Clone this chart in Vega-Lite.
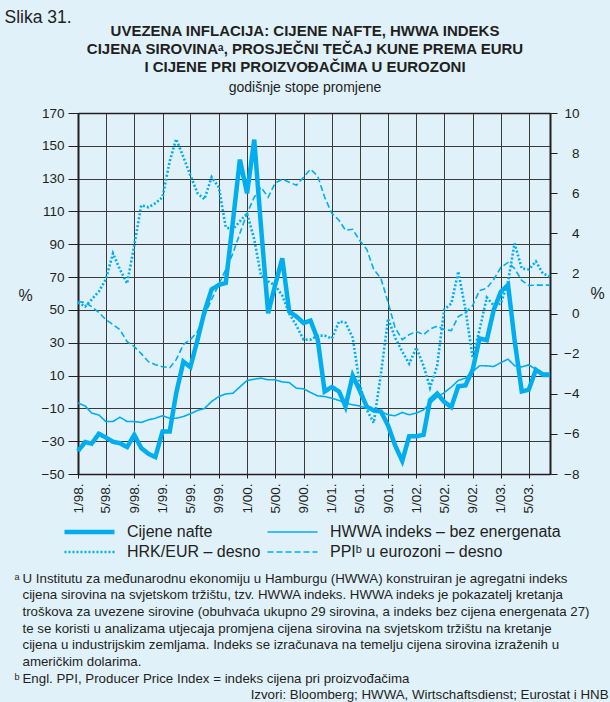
{
  "$schema": "https://vega.github.io/schema/vega-lite/v6.json",
  "width": 472,
  "height": 361,
  "autosize": {"type": "none"},
  "padding": {"left": 78, "right": 60, "top": 113, "bottom": 228},
  "background": "#e0f1fa",
  "title": {
    "text": ["UVEZENA INFLACIJA: CIJENE NAFTE, HWWA INDEKS", "CIJENA SIROVINAᵃ, PROSJEČNI TEČAJ KUNE PREMA EURU", "I CIJENE PRI PROIZVOĐAČIMA U EUROZONI"],
    "subtitle": "godišnje stope promjene",
    "anchor": "middle",
    "frame": "group",
    "dx": -9,
    "offset": -87,
    "font": "Liberation Sans",
    "fontSize": 15,
    "fontWeight": "bold",
    "lineHeight": 18,
    "color": "#231f20",
    "subtitleFont": "Liberation Sans",
    "subtitleFontSize": 14,
    "subtitleColor": "#231f20",
    "subtitlePadding": 6
  },
  "data": {"values": [
    {"date": "1998-01-01", "nafte": -36, "hwwa": -6.8, "hrk": 0.55, "ppi": 0.6},
    {"date": "1998-02-01", "nafte": -30.5, "hwwa": -8.5, "hrk": 0.35, "ppi": 0.55},
    {"date": "1998-03-01", "nafte": -31.5, "hwwa": -12.9, "hrk": 0.7, "ppi": 0.35},
    {"date": "1998-04-01", "nafte": -25.5, "hwwa": -14, "hrk": 1.1, "ppi": 0.05},
    {"date": "1998-05-01", "nafte": -27.7, "hwwa": -18, "hrk": 1.7, "ppi": -0.3},
    {"date": "1998-06-01", "nafte": -30.4, "hwwa": -18, "hrk": 3.0, "ppi": -0.55},
    {"date": "1998-07-01", "nafte": -31.2, "hwwa": -15.4, "hrk": 2.2, "ppi": -0.8},
    {"date": "1998-08-01", "nafte": -33.6, "hwwa": -18, "hrk": 1.5, "ppi": -1.4},
    {"date": "1998-09-01", "nafte": -26.1, "hwwa": -18, "hrk": 3.4, "ppi": -1.65},
    {"date": "1998-10-01", "nafte": -34.2, "hwwa": -18.6, "hrk": 5.4, "ppi": -2.0},
    {"date": "1998-11-01", "nafte": -37.7, "hwwa": -17, "hrk": 5.3, "ppi": -2.4},
    {"date": "1998-12-01", "nafte": -39.7, "hwwa": -16, "hrk": 5.5, "ppi": -2.55},
    {"date": "1999-01-01", "nafte": -24.1, "hwwa": -14.5, "hrk": 5.8, "ppi": -2.65},
    {"date": "1999-02-01", "nafte": -24.1, "hwwa": -16, "hrk": 7.6, "ppi": -2.7},
    {"date": "1999-03-01", "nafte": -0.8, "hwwa": -16, "hrk": 8.7, "ppi": -2.3},
    {"date": "1999-04-01", "nafte": 18.5, "hwwa": -15, "hrk": 7.8, "ppi": -1.55},
    {"date": "1999-05-01", "nafte": 15.1, "hwwa": -13.3, "hrk": 6.9, "ppi": -1.3},
    {"date": "1999-06-01", "nafte": 31.7, "hwwa": -11.3, "hrk": 6.0, "ppi": -0.9},
    {"date": "1999-07-01", "nafte": 48.9, "hwwa": -10.1, "hrk": 5.7, "ppi": -0.1},
    {"date": "1999-08-01", "nafte": 62.5, "hwwa": -5.8, "hrk": 6.8, "ppi": 0.7},
    {"date": "1999-09-01", "nafte": 65.2, "hwwa": -2.8, "hrk": 6.3, "ppi": 1.45},
    {"date": "1999-10-01", "nafte": 66.4, "hwwa": -1.2, "hrk": 4.3, "ppi": 2.2},
    {"date": "1999-11-01", "nafte": 104, "hwwa": -0.8, "hrk": 4.2, "ppi": 3.0},
    {"date": "1999-12-01", "nafte": 141.6, "hwwa": 3.1, "hrk": 4.6, "ppi": 4.0},
    {"date": "2000-01-01", "nafte": 121, "hwwa": 7, "hrk": 5.0, "ppi": 5.0},
    {"date": "2000-02-01", "nafte": 153.8, "hwwa": 7.8, "hrk": 3.7, "ppi": 5.8},
    {"date": "2000-03-01", "nafte": 101, "hwwa": 8.4, "hrk": 1.9, "ppi": 6.3},
    {"date": "2000-04-01", "nafte": 48, "hwwa": 7.4, "hrk": 1.6, "ppi": 5.8},
    {"date": "2000-05-01", "nafte": 65, "hwwa": 7.4, "hrk": 1.4, "ppi": 6.5},
    {"date": "2000-06-01", "nafte": 81.4, "hwwa": 6.1, "hrk": 0.9, "ppi": 6.7},
    {"date": "2000-07-01", "nafte": 49, "hwwa": 5.7, "hrk": 0.0, "ppi": 6.55},
    {"date": "2000-08-01", "nafte": 46, "hwwa": 2.3, "hrk": -0.6, "ppi": 6.4},
    {"date": "2000-09-01", "nafte": 42, "hwwa": 1.9, "hrk": -1.3, "ppi": 6.8},
    {"date": "2000-10-01", "nafte": 43.5, "hwwa": -0.3, "hrk": -1.3, "ppi": 7.2},
    {"date": "2000-11-01", "nafte": 32, "hwwa": -2.4, "hrk": -1.1, "ppi": 6.85},
    {"date": "2000-12-01", "nafte": 0.3, "hwwa": -2.8, "hrk": -1.1, "ppi": 5.8},
    {"date": "2001-01-01", "nafte": 3, "hwwa": -3.8, "hrk": -1.25, "ppi": 5.0},
    {"date": "2001-02-01", "nafte": 0.3, "hwwa": -5.2, "hrk": -0.4, "ppi": 4.65},
    {"date": "2001-03-01", "nafte": -8.9, "hwwa": -6.8, "hrk": -0.45, "ppi": 4.15},
    {"date": "2001-04-01", "nafte": 10, "hwwa": -7.8, "hrk": -1.2, "ppi": 4.2},
    {"date": "2001-05-01", "nafte": 1, "hwwa": -8.5, "hrk": -3.5, "ppi": 3.65},
    {"date": "2001-06-01", "nafte": -9, "hwwa": -9.9, "hrk": -4.8, "ppi": 3.2},
    {"date": "2001-07-01", "nafte": -11.3, "hwwa": -10.9, "hrk": -5.45, "ppi": 2.2},
    {"date": "2001-08-01", "nafte": -11.9, "hwwa": -11.9, "hrk": -3.0, "ppi": 1.75},
    {"date": "2001-09-01", "nafte": -20.5, "hwwa": -13.9, "hrk": -0.25, "ppi": 0.55},
    {"date": "2001-10-01", "nafte": -32.5, "hwwa": -14.5, "hrk": -1.2, "ppi": -0.7},
    {"date": "2001-11-01", "nafte": -42, "hwwa": -12.5, "hrk": -1.9, "ppi": -1.3},
    {"date": "2001-12-01", "nafte": -27, "hwwa": -13.9, "hrk": -2.5, "ppi": -1.05},
    {"date": "2002-01-01", "nafte": -27, "hwwa": -12.9, "hrk": -1.7, "ppi": -0.9},
    {"date": "2002-02-01", "nafte": -26.1, "hwwa": -10.9, "hrk": -2.6, "ppi": -1.05},
    {"date": "2002-03-01", "nafte": -5, "hwwa": -7, "hrk": -3.7, "ppi": -0.78},
    {"date": "2002-04-01", "nafte": -1, "hwwa": -3, "hrk": -2.6, "ppi": -0.62},
    {"date": "2002-05-01", "nafte": -6, "hwwa": -0.5, "hrk": 0.2, "ppi": -0.8},
    {"date": "2002-06-01", "nafte": -9.2, "hwwa": 3, "hrk": 0.5, "ppi": -0.85},
    {"date": "2002-07-01", "nafte": 3.5, "hwwa": 7, "hrk": 2.1, "ppi": -0.15},
    {"date": "2002-08-01", "nafte": 4, "hwwa": 8.4, "hrk": 0.2, "ppi": 0.05},
    {"date": "2002-09-01", "nafte": 13.5, "hwwa": 12.4, "hrk": -2.2, "ppi": 0.4},
    {"date": "2002-10-01", "nafte": 32.7, "hwwa": 16, "hrk": -0.8, "ppi": 1.15},
    {"date": "2002-11-01", "nafte": 31.5, "hwwa": 15.9, "hrk": 0.8, "ppi": 1.26},
    {"date": "2002-12-01", "nafte": 50, "hwwa": 15.5, "hrk": 0.4, "ppi": 1.7},
    {"date": "2003-01-01", "nafte": 61.1, "hwwa": 17.9, "hrk": 0.5, "ppi": 2.3},
    {"date": "2003-02-01", "nafte": 65.2, "hwwa": 20, "hrk": 1.6, "ppi": 2.55},
    {"date": "2003-03-01", "nafte": 31.7, "hwwa": 16, "hrk": 3.5, "ppi": 2.25},
    {"date": "2003-04-01", "nafte": 0.3, "hwwa": 15.3, "hrk": 2.25, "ppi": 1.65},
    {"date": "2003-05-01", "nafte": 1.3, "hwwa": 16.5, "hrk": 2.2, "ppi": 1.4},
    {"date": "2003-06-01", "nafte": 13.5, "hwwa": 13.8, "hrk": 2.6, "ppi": 1.42},
    {"date": "2003-07-01", "nafte": 10.7, "hwwa": 9.5, "hrk": 2.0, "ppi": 1.42},
    {"date": "2003-08-01", "nafte": 10.7, "hwwa": 9.4, "hrk": 1.85, "ppi": 1.42}
  ]},
  "resolve": {"scale": {"y": "independent"}, "axis": {"x": "independent", "y": "independent"}},
  "layer": [
    {
      "transform": [{"fold": ["nafte"], "as": ["series", "value"]}],
      "mark": {"type": "line", "color": "#00aeef"},
      "encoding": {
        "x": {"field": "date", "type": "temporal",
          "scale": {"type": "utc", "domain": [{"year": 1998, "month": 1, "date": 1, "utc": true}, {"year": 2003, "month": 8, "date": 1, "utc": true}]},
          "axis": {"orient": "bottom",
            "values": [{"year": 1998, "month": 1, "utc": true}, {"year": 1998, "month": 5, "utc": true}, {"year": 1998, "month": 9, "utc": true},
                       {"year": 1999, "month": 1, "utc": true}, {"year": 1999, "month": 5, "utc": true}, {"year": 1999, "month": 9, "utc": true},
                       {"year": 2000, "month": 1, "utc": true}, {"year": 2000, "month": 5, "utc": true}, {"year": 2000, "month": 9, "utc": true},
                       {"year": 2001, "month": 1, "utc": true}, {"year": 2001, "month": 5, "utc": true}, {"year": 2001, "month": 9, "utc": true},
                       {"year": 2002, "month": 1, "utc": true}, {"year": 2002, "month": 5, "utc": true}, {"year": 2002, "month": 9, "utc": true},
                       {"year": 2003, "month": 1, "utc": true}, {"year": 2003, "month": 5, "utc": true}],
            "format": "%-m/%y.",
            "labelAngle": 270, "labelAlign": "right", "labelBaseline": "middle",
            "labelFontSize": 13.5, "labelPadding": 5, "labelOverlap": false, "labelFlush": false,
            "tickSize": 4, "tickColor": "#231f20", "tickWidth": 1,
            "domainColor": "#231f20", "domainWidth": 1.5,
            "grid": true, "gridColor": "#3a3a3a", "gridWidth": 1,
            "title": ["U Institutu za međunarodnu ekonomiju u Hamburgu (HWWA) konstruiran je agregatni indeks",
                      "cijena sirovina na svjetskom tržištu, tzv. HWWA indeks. HWWA indeks je pokazatelj kretanja",
                      "troškova za uvezene sirovine (obuhvaća ukupno 29 sirovina, a indeks bez cijena energenata 27)",
                      "te se koristi u analizama utjecaja promjena cijena sirovina na svjetskom tržištu na kretanje",
                      "cijena u industrijskim zemljama. Indeks se izračunava na temelju cijena sirovina izraženih u",
                      "američkim dolarima.",
                      "Engl. PPI, Producer Price Index = indeks cijena pri proizvođačima"],
            "titleX": -56, "titleY": 97, "titleAlign": "left", "titleAnchor": "start", "titleBaseline": "top", "titleAngle": 0,
            "titleFontSize": 13.3, "titleFontWeight": "normal", "titleLineHeight": 16.7, "titleLimit": 1000}
        },
        "y": {"field": "value", "type": "quantitative",
          "scale": {"domain": [-50, 170], "nice": false, "zero": false},
          "axis": {"orient": "left", "values": [-50, -30, -10, 10, 30, 50, 70, 90, 110, 130, 150, 170],
            "grid": true, "gridColor": "#3a3a3a", "gridWidth": 1,
            "domainColor": "#231f20", "domainWidth": 2,
            "tickSize": 10, "tickColor": "#231f20", "labelPadding": 4, "labelFontSize": 13.5,
            "title": "%", "titleAngle": 0, "titleX": -53, "titleY": 182, "titleAlign": "center", "titleBaseline": "middle",
            "titleFontSize": 16, "titleFontWeight": "normal"}
        },
        "strokeDash": {"field": "series", "type": "nominal",
          "scale": {"domain": ["nafte", "hrk", "hwwa", "ppi"], "range": [[1, 0], [2, 2], [1, 0], [6, 3]]},
          "legend": {"labelExpr": "datum.label == 'nafte' ? 'Cijene nafte' : datum.label == 'hwwa' ? 'HWWA indeks – bez energenata' : datum.label == 'hrk' ? 'HRK/EUR – desno' : 'PPIᵇ u eurozoni – desno'"}},
        "strokeWidth": {"field": "series", "type": "nominal",
          "scale": {"type": "ordinal", "domain": ["nafte", "hrk", "hwwa", "ppi"], "range": [4.5, 2.6, 1.6, 1.6]},
          "legend": {"labelExpr": "datum.label == 'nafte' ? 'Cijene nafte' : datum.label == 'hwwa' ? 'HWWA indeks – bez energenata' : datum.label == 'hrk' ? 'HRK/EUR – desno' : 'PPIᵇ u eurozoni – desno'"}}
      }
    },
    {
      "transform": [{"fold": ["hwwa"], "as": ["series", "value"]}],
      "mark": {"type": "line", "color": "#00aeef"},
      "encoding": {
        "x": {"field": "date", "type": "temporal",
          "axis": {"orient": "bottom", "labels": false, "ticks": false, "domain": false, "grid": false,
            "title": "Izvori: Bloomberg; HWWA, Wirtschaftsdienst; Eurostat i HNB",
            "titleX": 530, "titleY": 224, "titleAlign": "right", "titleAnchor": "end", "titleBaseline": "alphabetic", "titleAngle": 0,
            "titleFontSize": 13.3, "titleFontWeight": "normal"}},
        "y": {"field": "value", "type": "quantitative",
          "scale": {"domain": [-50, 170], "nice": false, "zero": false},
          "axis": {"orient": "left", "labels": false, "ticks": false, "domain": false, "grid": false,
            "title": ["ᵃ", "\u2800", "\u2800", "\u2800", "\u2800", "\u2800", "ᵇ"],
            "titleX": -64, "titleY": 458, "titleAlign": "left", "titleAnchor": "start", "titleBaseline": "top", "titleAngle": 0,
            "titleFontSize": 13.3, "titleFontWeight": "normal", "titleLineHeight": 16.7}},
        "strokeDash": {"field": "series", "type": "nominal",
          "scale": {"domain": ["nafte", "hrk", "hwwa", "ppi"], "range": [[1, 0], [2, 2], [1, 0], [6, 3]]},
          "legend": {"labelExpr": "datum.label == 'nafte' ? 'Cijene nafte' : datum.label == 'hwwa' ? 'HWWA indeks – bez energenata' : datum.label == 'hrk' ? 'HRK/EUR – desno' : 'PPIᵇ u eurozoni – desno'"}},
        "strokeWidth": {"field": "series", "type": "nominal",
          "scale": {"type": "ordinal", "domain": ["nafte", "hrk", "hwwa", "ppi"], "range": [4.5, 2.6, 1.6, 1.6]},
          "legend": {"labelExpr": "datum.label == 'nafte' ? 'Cijene nafte' : datum.label == 'hwwa' ? 'HWWA indeks – bez energenata' : datum.label == 'hrk' ? 'HRK/EUR – desno' : 'PPIᵇ u eurozoni – desno'"}}
      }
    },
    {
      "transform": [{"fold": ["hrk", "ppi"], "as": ["series", "value"]}],
      "mark": {"type": "line", "color": "#00aeef"},
      "encoding": {
        "x": {"field": "date", "type": "temporal",
          "axis": {"orient": "top", "labels": false, "ticks": false, "grid": false, "domain": true,
            "domainColor": "#231f20", "domainWidth": 1.5,
            "title": "Slika 31.", "titleX": -74, "titleY": -91, "titleAlign": "left", "titleAnchor": "start", "titleBaseline": "alphabetic", "titleAngle": 0,
            "titleFontSize": 17.5, "titleFontWeight": "normal"}},
        "y": {"field": "value", "type": "quantitative",
          "scale": {"domain": [-8, 10], "nice": false, "zero": false},
          "axis": {"orient": "right", "values": [-8, -6, -4, -2, 0, 2, 4, 6, 8, 10], "grid": false,
            "domainColor": "#231f20", "domainWidth": 2,
            "tickSize": 7, "tickColor": "#231f20", "labelPadding": 22, "labelAlign": "right", "labelFontSize": 13.5,
            "title": "%", "titleAngle": 0, "titleX": 47, "titleY": 180, "titleAlign": "center", "titleBaseline": "middle",
            "titleFontSize": 16, "titleFontWeight": "normal"}},
        "strokeDash": {"field": "series", "type": "nominal",
          "scale": {"domain": ["nafte", "hrk", "hwwa", "ppi"], "range": [[1, 0], [2, 2], [1, 0], [6, 3]]},
          "legend": {"labelExpr": "datum.label == 'nafte' ? 'Cijene nafte' : datum.label == 'hwwa' ? 'HWWA indeks – bez energenata' : datum.label == 'hrk' ? 'HRK/EUR – desno' : 'PPIᵇ u eurozoni – desno'"}},
        "strokeWidth": {"field": "series", "type": "nominal",
          "scale": {"type": "ordinal", "domain": ["nafte", "hrk", "hwwa", "ppi"], "range": [4.5, 2.6, 1.6, 1.6]},
          "legend": {"labelExpr": "datum.label == 'nafte' ? 'Cijene nafte' : datum.label == 'hwwa' ? 'HWWA indeks – bez energenata' : datum.label == 'hrk' ? 'HRK/EUR – desno' : 'PPIᵇ u eurozoni – desno'"}}
      }
    }
  ],
  "config": {
    "view": {"stroke": null},
    "font": "Liberation Sans",
    "axis": {"labelFont": "Liberation Sans", "titleFont": "Liberation Sans", "labelColor": "#231f20", "titleColor": "#231f20"},
    "legend": {
      "orient": "none", "legendX": -16, "legendY": 411, "columns": 2, "title": null,
      "symbolType": "stroke", "symbolSize": 2500, "symbolStrokeColor": "#00aeef",
      "labelFont": "Liberation Sans", "labelFontSize": 16, "labelColor": "#231f20", "labelLimit": 400,
      "labelOffset": 10, "columnPadding": 4, "rowPadding": 4, "clipHeight": 16, "padding": 0
    }
  }
}
